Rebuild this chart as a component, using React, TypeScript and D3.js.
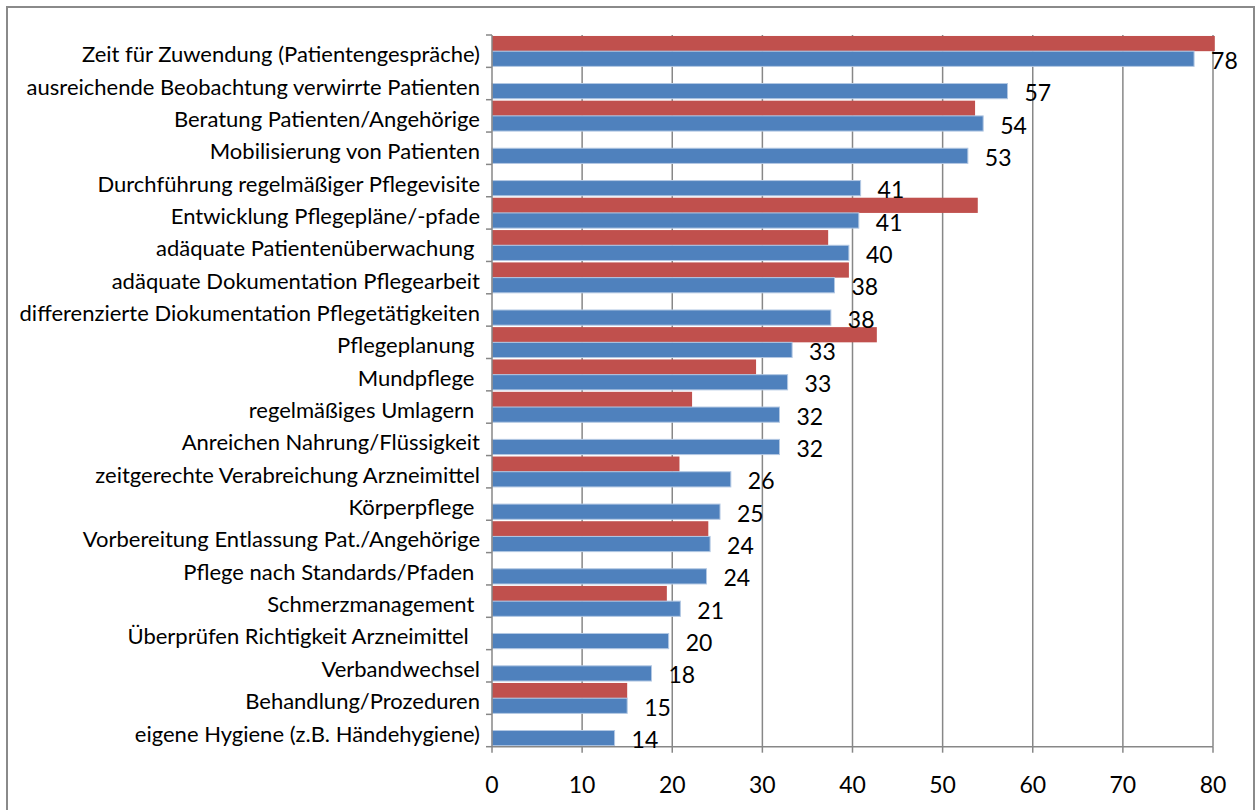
import React from "react";
import * as d3 from "d3";

const categories = [
  "Zeit für Zuwendung (Patientengespräche)",
  "ausreichende Beobachtung verwirrte Patienten",
  "Beratung Patienten/Angehörige",
  "Mobilisierung von Patienten",
  "Durchführung regelmäßiger Pflegevisite",
  "Entwicklung Pflegepläne/-pfade",
  "adäquate Patientenüberwachung ",
  "adäquate Dokumentation Pflegearbeit",
  "differenzierte Diokumentation Pflegetätigkeiten",
  "Pflegeplanung ",
  "Mundpflege ",
  "regelmäßiges Umlagern ",
  "Anreichen Nahrung/Flüssigkeit",
  "zeitgerechte Verabreichung Arzneimittel",
  "Körperpflege ",
  "Vorbereitung Entlassung Pat./Angehörige",
  "Pflege nach Standards/Pfaden ",
  "Schmerzmanagement ",
  "Überprüfen Richtigkeit Arzneimittel  ",
  "Verbandwechsel",
  "Behandlung/Prozeduren",
  "eigene Hygiene (z.B. Händehygiene)",
];

const blueValues = [77.9, 57.2, 54.5, 52.8, 40.9, 40.7, 39.6, 38.0, 37.6, 33.3, 32.8, 31.9, 31.9, 26.5, 25.3, 24.2, 23.8, 20.9, 19.6, 17.7, 15.0, 13.6];
const blueLabels = ["78", "57", "54", "53", "41", "41", "40", "38", "38", "33", "33", "32", "32", "26", "25", "24", "24", "21", "20", "18", "15", "14"];
const redValues: (number | null)[] = [80.2, null, 53.6, null, null, 53.9, 37.3, 39.6, null, 42.7, 29.3, 22.2, null, 20.8, null, 24.0, null, 19.4, null, null, 15.0, null];
const xTicks = [0, 10, 20, 30, 40, 50, 60, 70, 80];

const W = 1257;
const H = 810;
const plot = { left: 492, right: 1213, top: 35, bottom: 746.7 };
const FONT = "Lato, 'Noto Sans', sans-serif";

export default function App() {
  const x = d3.scaleLinear().domain([0, 80]).range([plot.left, plot.right]);
  const y = d3.scaleBand<string>().domain(categories).range([plot.top, plot.bottom]).paddingInner(0.06).paddingOuter(0.03);
  const step = y.step();
  const sub = d3.scaleBand<string>().domain(["red", "blue"]).range([0, y.bandwidth()]);
  const boundaries = d3.range(categories.length + 1).map((i) => plot.top + i * step);

  return (
    <svg width={W} height={H} style={{ position: "absolute", left: 0, top: 0, background: "#fff" }}>
      <rect x={0} y={0} width={W} height={H} fill="#fff" />
      <rect x={7} y={7} width={1247} height={840} fill="none" stroke="#8a8a8a" strokeWidth={2} />
      {/* gridlines */}
      {xTicks.filter((t) => t > 0).map((t) => (
        <line key={"g" + t} x1={x(t)} x2={x(t)} y1={plot.top} y2={plot.bottom} stroke="#878787" strokeWidth={1.5} />
      ))}
      {/* bars */}
      {categories.map((c, i) => {
        const r = redValues[i];
        const top = y(c)!;
        return (
          <g key={"b" + i}>
            {r !== null && (
              <rect x={x(0)} y={top + sub("red")!} width={x(r) - x(0)} height={sub.bandwidth()} fill="#C0504D" />
            )}
            <rect x={x(0)} y={top + sub("blue")!} width={x(blueValues[i]) - x(0)} height={sub.bandwidth()} fill="#4F81BD" stroke="#B3C8E3" strokeWidth={1} />
          </g>
        );
      })}
      {/* axes */}
      <line x1={plot.left} x2={plot.left} y1={plot.top} y2={plot.bottom} stroke="#878787" strokeWidth={1.5} />
      <line x1={plot.left} x2={plot.right} y1={plot.bottom} y2={plot.bottom} stroke="#878787" strokeWidth={1.5} />
      {boundaries.map((b, i) => (
        <line key={"yt" + i} x1={plot.left - 6} x2={plot.left} y1={b} y2={b} stroke="#878787" strokeWidth={1.5} />
      ))}
      {xTicks.map((t) => (
        <line key={"xt" + t} x1={x(t)} x2={x(t)} y1={plot.bottom} y2={plot.bottom + 6} stroke="#878787" strokeWidth={1.5} />
      ))}
      {/* category labels */}
      {categories.map((c, i) => (
        <text key={"c" + i} x={480} y={y(c)! + y.bandwidth() / 2} dy="0.5em" textAnchor="end" fontFamily={FONT} fontSize={22} fill="#000" style={{ whiteSpace: "pre" }}>
          {c}
        </text>
      ))}
      {/* value labels */}
      {categories.map((c, i) => (
        <text key={"v" + i} x={x(blueValues[i]) + 17} y={y(c)! + sub("blue")! + sub.bandwidth() / 2 + 2} dy="0.35em" fontFamily={FONT} fontSize={23} fill="#000">
          {blueLabels[i]}
        </text>
      ))}
      {/* x tick labels */}
      {xTicks.map((t) => (
        <text key={"xl" + t} x={x(t)} y={plot.bottom + 46} textAnchor="middle" fontFamily={FONT} fontSize={23} fill="#000">
          {t}
        </text>
      ))}
    </svg>
  );
}
